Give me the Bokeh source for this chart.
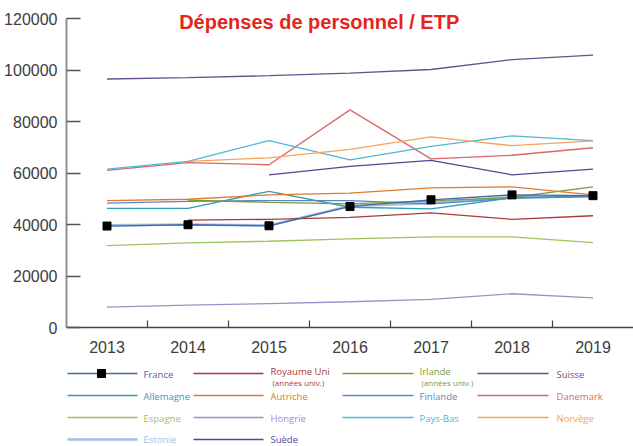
import math
from bokeh.plotting import figure
from bokeh.models import Range1d, FixedTicker, Label
from bokeh.layouts import column
from bokeh.embed import file_html
from bokeh.resources import INLINE
from bokeh.core.properties import value

NaN = float("nan")

# ---- data -------------------------------------------------------------
years = [2013, 2014, 2015, 2016, 2017, 2018, 2019]
year_labels = ["2013", "2014", "2015", "2016", "2017", "2018", "2019"]
y_ticks = [0, 20000, 40000, 60000, 80000, 100000, 120000]
y_tick_labels = ["0", "20000", "40000", "60000", "80000", "100000", "120000"]

france = [39400, 39900, 39500, 47000, 49600, 51500, 51200]
royaume_uni = [NaN, 41700, 42000, 42800, 44500, 42000, 43400]
irlande = [NaN, 49500, 48600, 48000, 49200, 50500, 54600]
suisse = [96500, 97000, 97800, 98800, 100200, 104000, 105800]
allemagne = [46300, 46300, 52900, 46700, 46100, 50400, 51000]
autriche = [49300, 49800, 51500, 52200, 54200, 54600, 51500]
finlande = [48300, 49000, 49300, 49300, 48000, 50200, 50800]
danemark = [61000, 64000, 63200, 84500, 65500, 66900, 69800]
espagne = [31800, 32900, 33500, 34400, 35200, 35200, 33000]
hongrie = [7900, 8700, 9300, 10000, 10900, 13100, 11500]
pays_bas = [61500, 64500, 72600, 65100, 70300, 74400, 72600]
norvege = [NaN, 64500, 65900, 69200, 74000, 70600, 72500]
estonie = [39700, 40000, 39600, 47200, 48300, 50600, 51000]
suede = [NaN, NaN, 59300, 62600, 64900, 59300, 61500]

title_text = "Dépenses de personnel / ETP"

# name, values, color, width, legend row, legend col, subtitle
series = [
    ("Estonie", estonie, "#a3bde3", 2.6, 3, 0, None),
    ("Hongrie", hongrie, "#a58cc8", 1.3, 2, 1, None),
    ("Espagne", espagne, "#9dc45c", 1.3, 2, 0, None),
    ("Royaume Uni", royaume_uni, "#a83a3a", 1.3, 0, 1, "(années univ.)"),
    ("Allemagne", allemagne, "#2f9db3", 1.3, 1, 0, None),
    ("Finlande", finlande, "#5b86c6", 1.3, 1, 2, None),
    ("Irlande", irlande, "#789a3a", 1.3, 0, 2, "(années univ.)"),
    ("Autriche", autriche, "#e07a2c", 1.3, 1, 1, None),
    ("Suède", suede, "#5a4296", 1.3, 3, 1, None),
    ("Danemark", danemark, "#d9676a", 1.3, 1, 3, None),
    ("Pays-Bas", pays_bas, "#4db8d6", 1.3, 2, 2, None),
    ("Norvège", norvege, "#f6a35d", 1.3, 2, 3, None),
    ("Suisse", suisse, "#6a4f8e", 1.3, 0, 3, None),
    ("France", france, "#3f6aa8", 1.3, 0, 0, None),
]

# ---- main chart -------------------------------------------------------
p = figure(width=633, height=358, output_backend="svg", toolbar_location=None,
           x_range=Range1d(2012.5, 2019.5),
           y_range=Range1d(0, 120000 * 327.0 / 309.0),
           min_border_left=66, min_border_top=0, min_border_right=0,
           min_border_bottom=31)
p.outline_line_color = None
p.xgrid.visible = False
p.ygrid.visible = False
p.background_fill_color = "white"
p.border_fill_color = "white"

for name, vals, col, w, r, c, sub in series:
    p.line(years, vals, line_color=col, line_width=w)
p.scatter(years, france, marker="square", size=8, fill_color="black",
          line_color="black")

yax = p.yaxis[0]
yax.ticker = FixedTicker(ticks=y_ticks)
yax.bounds = (0, 120000)
yax.major_label_overrides = {t: l for t, l in zip(y_ticks, y_tick_labels)}
yax.major_tick_in = 14
yax.major_tick_out = 0
yax.major_tick_line_color = "#555555"
yax.major_tick_line_width = 1.5
yax.minor_tick_line_color = None
yax.axis_line_color = "#8f8f8f"
yax.axis_line_width = 2
yax.major_label_standoff = 9
yax.major_label_text_font = "Liberation Sans"
yax.major_label_text_font_size = "16px"
yax.major_label_text_color = "#3c3c3c"

xax = p.xaxis[0]
xax.ticker = FixedTicker(ticks=years,
                         minor_ticks=[y + 0.5 for y in years[:-1]])
xax.major_label_overrides = {t: l for t, l in zip(years, year_labels)}
xax.major_tick_line_color = None
xax.major_tick_in = 0
xax.major_tick_out = 0
xax.minor_tick_in = 7
xax.minor_tick_out = 0
xax.minor_tick_line_color = "#444444"
xax.minor_tick_line_width = 1.2
xax.axis_line_color = "#444444"
xax.axis_line_width = 1.5
xax.major_label_standoff = 13
xax.major_label_text_font = "Liberation Sans"
xax.major_label_text_font_size = "16px"
xax.major_label_text_color = "#3c3c3c"

p.add_layout(Label(x=2015.62, y=118800, text=title_text,
                   text_align="center", text_baseline="middle",
                   text_font="Liberation Sans", text_font_style="bold",
                   text_font_size="20px", text_color="#e2261c"))

# ---- legend panel (frame aligned with the chart frame: x 66..633) -------
leg = figure(width=633, height=88, output_backend="svg", toolbar_location=None,
             x_range=Range1d(66, 633), y_range=Range1d(446, 358),
             x_axis_location=None, y_axis_location=None,
             min_border_left=66, min_border_right=0,
             min_border_top=0, min_border_bottom=0)
leg.outline_line_color = None
leg.xgrid.visible = False
leg.ygrid.visible = False

row_y = [373, 395, 417, 439]
col_line = [(67, 137), (193, 263), (342, 413), (477, 548)]
col_text = [143, 270, 419, 556]

order = ["France", "Royaume Uni", "Irlande", "Suisse", "Allemagne", "Autriche",
         "Finlande", "Danemark", "Espagne", "Hongrie", "Pays-Bas", "Norvège",
         "Estonie", "Suède"]
lookup = {s[0]: s for s in series}
for name in order:
    _, vals, col, w, r, c, sub = lookup[name]
    y = row_y[r]
    x0, x1 = col_line[c]
    leg.segment(x0=[x0], y0=[y], x1=[x1], y1=[y], line_color=col,
                line_width=w)
    if sub:
        ty = y - 2
    elif r == 3:
        ty = y
    else:
        ty = y + 1
    leg.text(x=[col_text[c]], y=[ty], text=[name], text_color=col,
             text_font=value("Open Sans"), text_font_size=value("9.5px"),
             text_baseline="middle", text_align="left")
    if sub:
        leg.text(x=[col_text[c] + 2], y=[ty + 11], text=[sub], text_color=col,
                 text_font=value("Open Sans"), text_font_size=value("8px"),
                 text_baseline="middle", text_align="left")
    if name == "France":
        leg.scatter(x=[(x0 + x1) / 2 - 1], y=[y], marker="square", size=8,
                    fill_color="black", line_color="black")

layout = column(p, leg, spacing=0)
open("out.html", "w").write(file_html(layout, INLINE))
